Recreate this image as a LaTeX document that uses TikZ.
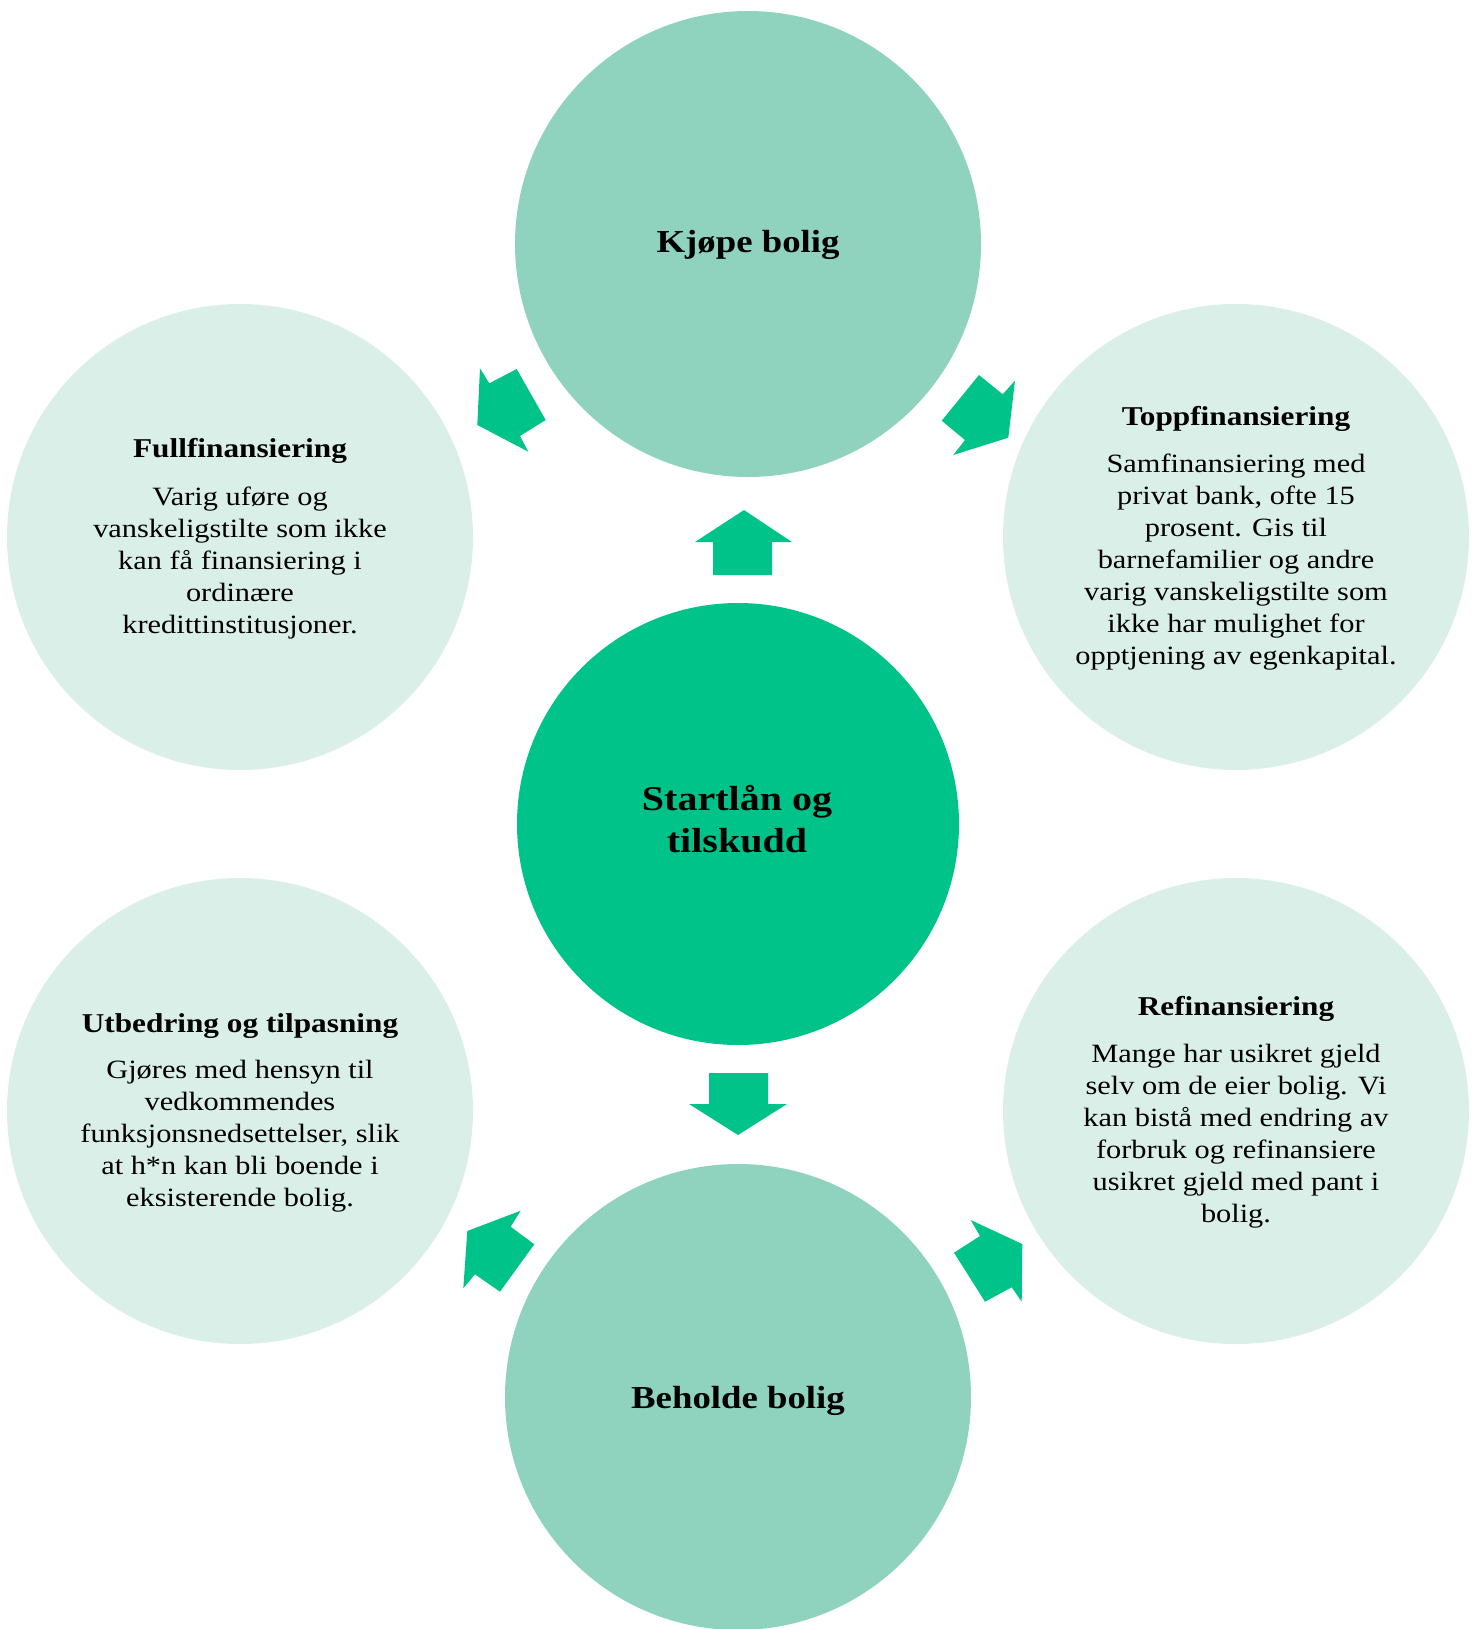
\documentclass[tikz,border=0pt]{standalone}
\usepackage{fontspec}
\setmainfont{Liberation Serif}[FakeStretch=1.15]
\definecolor{hubgreen}{HTML}{00C389}
\definecolor{midgreen}{HTML}{8FD3BE}
\definecolor{palegreen}{HTML}{D9EFE8}
\tikzset{
  disc/.style={circle, inner sep=0pt, draw=none},
  hub/.style={disc, fill=hubgreen, minimum size=221pt},
  goal/.style={disc, fill=midgreen, minimum size=233pt},
  detail/.style={disc, fill=palegreen, minimum size=233pt},
  bigtitle/.style={inner sep=0pt, anchor=base, font=\bfseries\fontsize{16}{20}\selectfont},
  hubtitle/.style={inner sep=0pt, anchor=base, align=center, font=\bfseries\fontsize{17.4}{21}\selectfont},
  boxtitle/.style={inner sep=0pt, anchor=base, font=\bfseries\fontsize{13.6}{16}\selectfont},
  boxbody/.style={inner sep=0pt, anchor=north, align=center, font=\fontsize{13.2}{16}\selectfont},
  blockarrow/.style={fill=hubgreen, draw=none}
}
\newcommand{\firstline}{\rule{0pt}{11pt}}
\begin{document}
\begin{tikzpicture}[x=0.5pt,y=-0.5pt]
\useasboundingbox (0,0) rectangle (1482,1629);

% circles
\node[goal]   (buy)    at (748,244)  {};
\node[hub]    (hubc)   at (738,824)  {};
\node[goal]   (keep)   at (738,1397) {};
\node[detail] (full)   at (240,537)  {};
\node[detail] (topp)   at (1236,537) {};
\node[detail] (utb)    at (240,1111) {};
\node[detail] (refi)   at (1236,1111){};

% titles of the main circles (a two-line node sits on its last baseline)
\node[bigtitle] (buyt) at (748,252) {Kjøpe bolig};
\node[hubtitle] (hubt) at (737,852) {Startlån og\\tilskudd};
\node[bigtitle] (keept) at (738,1408) {Beholde bolig};

% Fullfinansiering
\node[boxtitle] (fullt) at (240,457) {Fullfinansiering};
\node[boxbody] (fullb) at (240,483) {\firstline Varig uføre og\\vanskeligstilte som ikke\\kan få finansiering i\\ordinære\\kredittinstitusjoner.};

% Toppfinansiering
\node[boxtitle] (toppt) at (1236,425) {Toppfinansiering};
\node[boxbody] (toppb) at (1236,450) {\firstline Samfinansiering med\\privat bank, ofte 15\\prosent. Gis til\\barnefamilier og andre\\varig vanskeligstilte som\\ikke har mulighet for\\opptjening av egenkapital.};

% Refinansiering
\node[boxtitle] (refit) at (1236,1015) {Refinansiering};
\node[boxbody] (refib) at (1236,1040) {\firstline Mange har usikret gjeld\\selv om de eier bolig. Vi\\kan bistå med endring av\\forbruk og refinansiere\\usikret gjeld med pant i\\bolig.};

% Utbedring og tilpasning
\node[boxtitle] (utbt) at (240,1032) {Utbedring og tilpasning};
\node[boxbody] (utbb) at (240,1056) {\firstline Gjøres med hensyn til\\vedkommendes\\funksjonsnedsettelser, slik\\at h*n kan bli boende i\\eksisterende bolig.};

% block arrows
\fill[blockarrow] (744,510) -- (792,542) -- (772,542) -- (772,575) -- (713,575) -- (713,542) -- (695,542) -- cycle;
\fill[blockarrow] (709,1073) -- (768,1073) -- (768,1104) -- (787,1104) -- (738,1135) -- (689,1104) -- (709,1104) -- cycle;
\fill[blockarrow] (477.3,425) -- (480,368.3) -- (489.3,383.3) -- (516.7,369) -- (545.7,420) -- (520,436) -- (528.3,451.7) -- cycle;
\fill[blockarrow] (1008.3,437.7) -- (1015,380.7) -- (1002.7,394.3) -- (979,375) -- (941.7,420.7) -- (965,440) -- (953.3,455) -- cycle;
\fill[blockarrow] (467.3,1231) -- (520.7,1210.7) -- (510.7,1226.7) -- (534.3,1244.3) -- (500,1291.7) -- (475,1274.3) -- (463.3,1288.3) -- cycle;
\fill[blockarrow] (1022.3,1244) -- (970.7,1220) -- (980,1236) -- (954,1252.7) -- (985,1301.7) -- (1011.7,1287.3) -- (1021.7,1301.7) -- cycle;
\end{tikzpicture}
\end{document}
